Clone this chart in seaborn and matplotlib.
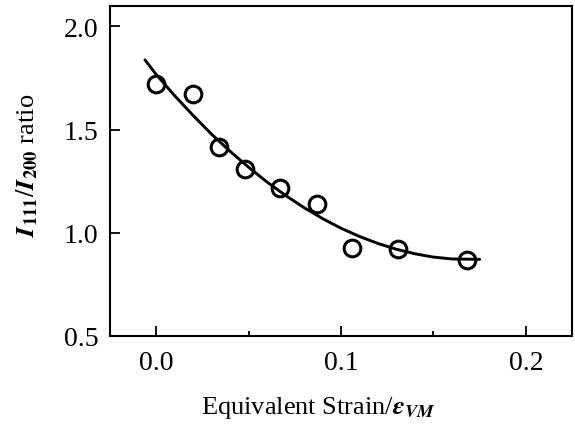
import numpy as np
import pandas as pd
import matplotlib
matplotlib.use('Agg')
import matplotlib.pyplot as plt
from matplotlib.ticker import MultipleLocator
import seaborn as sns

# measured points
strain = [0.0, 0.020, 0.034, 0.048, 0.067, 0.087, 0.106, 0.131, 0.168]
ratio = [1.72, 1.675, 1.417, 1.31, 1.215, 1.137, 0.928, 0.92, 0.867]

# fitted curve
fit_x = [-0.006, 0.0, 0.01, 0.02, 0.03, 0.04, 0.05, 0.06, 0.07, 0.08, 0.09,
         0.10, 0.11, 0.12, 0.13, 0.14, 0.15, 0.16, 0.175]
fit_y = [1.838, 1.768, 1.665, 1.569, 1.478, 1.395, 1.318, 1.246, 1.181, 1.122, 1.069,
         1.022, 0.982, 0.948, 0.920, 0.898, 0.882, 0.873, 0.871]

sns.set_style('ticks')
plt.rcParams['font.family'] = ['Liberation Serif', 'DejaVu Serif']
plt.rcParams['mathtext.fontset'] = 'stix'
plt.rcParams['text.color'] = 'black'
plt.rcParams['axes.labelcolor'] = 'black'

pts = pd.DataFrame({'strain': strain, 'ratio': ratio})
fit = pd.DataFrame({'x': fit_x, 'y': fit_y})

fig, ax = plt.subplots(figsize=(5.75, 4.27), dpi=100)
fig.subplots_adjust(left=0.191, right=0.995, bottom=0.211, top=0.984)

sns.lineplot(data=fit, x='x', y='y', ax=ax, color='black', lw=2.1, sort=False)
ax.plot(pts['strain'], pts['ratio'], 'o', ms=12, mfc='none', mec='black', mew=2.2)

ax.set_xlim(-0.025, 0.225)
ax.set_ylim(0.5, 2.1)
ax.xaxis.set_major_locator(MultipleLocator(0.1))
ax.xaxis.set_minor_locator(MultipleLocator(0.05))
ax.yaxis.set_major_locator(MultipleLocator(0.5))
ax.xaxis.set_major_formatter(plt.FuncFormatter(lambda v, p: f'{v:.1f}'))
ax.yaxis.set_major_formatter(plt.FuncFormatter(lambda v, p: f'{v:.1f}'))

ax.tick_params(axis='both', which='major', direction='in', length=7, width=1.3,
               labelsize=20, color='black', labelcolor='black')
ax.tick_params(axis='x', which='major', pad=10)
ax.tick_params(axis='y', which='major', pad=8)
ax.tick_params(axis='x', which='minor', direction='in', length=3.5, width=1.3, color='black')
for s in ax.spines.values():
    s.set_visible(True)
    s.set_linewidth(1.5)
    s.set_color('black')

ax.set_xlabel(r'Equivalent Strain/$\mathbfit{\varepsilon}_{\mathbfit{VM}}$', fontsize=19)
ax.set_ylabel(r'$\mathbfit{I}_{\mathbf{111}}/\mathbfit{I}_{\mathbf{200}}$ ratio', fontsize=19)
ax.xaxis.set_label_coords(0.452, -0.175)
ax.yaxis.set_label_coords(-0.152, 0.52)

fig.savefig('out.png', dpi=100)
